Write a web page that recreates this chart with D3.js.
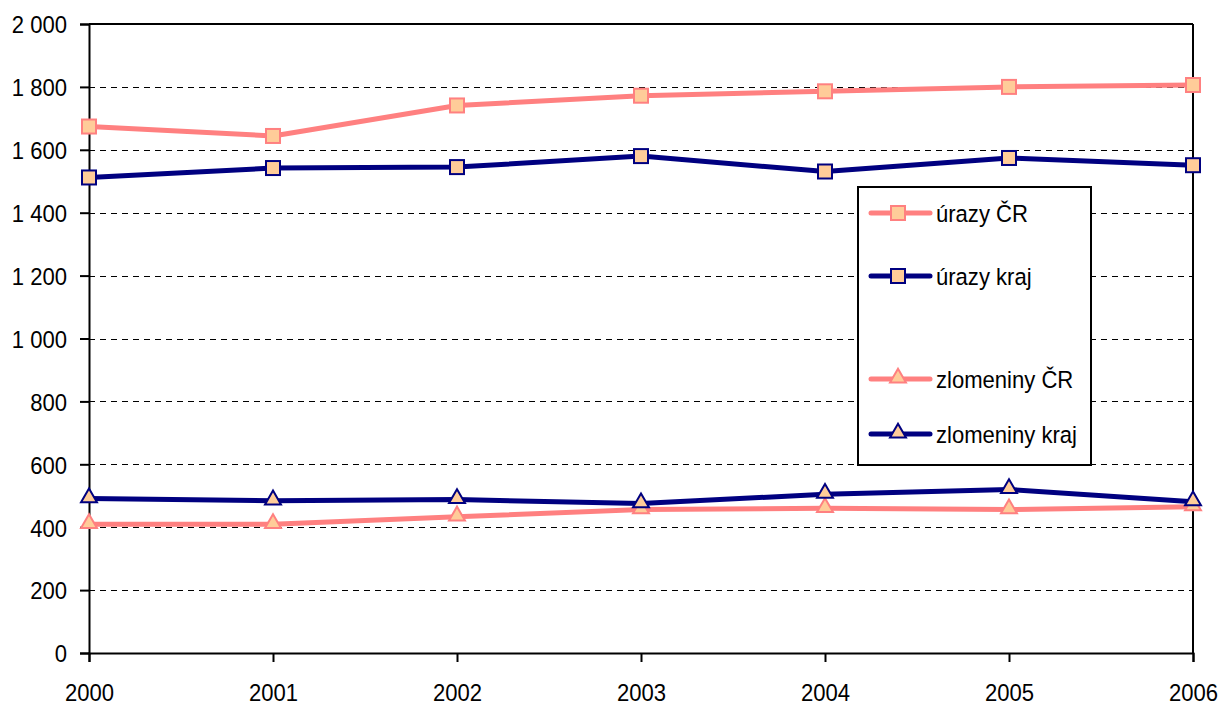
<!DOCTYPE html>
<html>
<head>
<meta charset="utf-8">
<script src="https://cdn.jsdelivr.net/npm/d3@7"></script>
<style>
  body { margin: 0; background: #fff; }
  text { font-family: "Liberation Sans", Arial, sans-serif; }
</style>
</head>
<body>
<div id="chart"></div>
<script>
// data
var years = [2000, 2001, 2002, 2003, 2004, 2005, 2006];
var urazyCR = [1674, 1644, 1741, 1772, 1786, 1800, 1806];
var urazyKraj = [1512, 1542, 1545, 1580, 1531, 1574, 1551];
var zlomeninyCR = [409, 409, 433, 456, 460, 456, 465];
var zlomeninyKraj = [491, 484, 488, 475, 505, 520, 481];
var yTicks = [0, 200, 400, 600, 800, 1000, 1200, 1400, 1600, 1800, 2000];
var seriesNames = ["úrazy ČR", "úrazy kraj", "zlomeniny ČR", "zlomeniny kraj"];

var width = 1223, height = 707;
var pink = "#ff8080", navy = "#000080", peach = "#ffcc99";
var fontSize = "24.5px";

var series = [
  {name: seriesNames[0], values: urazyCR, color: pink, shape: "square"},
  {name: seriesNames[1], values: urazyKraj, color: navy, shape: "square"},
  {name: seriesNames[2], values: zlomeninyCR, color: pink, shape: "triangle"},
  {name: seriesNames[3], values: zlomeninyKraj, color: navy, shape: "triangle"}
];

var svg = d3.select("#chart").append("svg")
    .attr("width", width)
    .attr("height", height);

var x = d3.scaleLinear().domain([2000, 2006]).range([89, 1193]);
var y = d3.scaleLinear().domain([0, 2000]).range([653, 24]);

var fmt = d3.formatLocale({decimal: ",", thousands: "\u00a0", grouping: [3], currency: ["", ""]}).format(",d");

// gridlines
svg.append("g")
  .selectAll("line")
  .data(yTicks.filter(function(d) { return d > 0 && d < 2000; }))
  .enter().append("line")
  .attr("x1", x(2000)).attr("x2", x(2006))
  .attr("y1", function(d) { return Math.round(y(d)) + 0.5; })
  .attr("y2", function(d) { return Math.round(y(d)) + 0.5; })
  .attr("stroke", "#000")
  .attr("stroke-width", 1)
  .attr("shape-rendering", "crispEdges")
  .attr("stroke-dasharray", "6,5");

// frame top + right
svg.append("line").attr("x1", x(2000)).attr("x2", x(2006)).attr("y1", y(2000)).attr("y2", y(2000))
  .attr("stroke", "#000").attr("stroke-width", 2);
svg.append("line").attr("x1", x(2006)).attr("x2", x(2006)).attr("y1", y(2000)).attr("y2", y(0))
  .attr("stroke", "#000").attr("stroke-width", 2);

// y axis
var yAxis = svg.append("g")
  .attr("transform", "translate(" + x(2000) + ",0)")
  .call(d3.axisLeft(y).tickValues(yTicks).tickSize(9).tickPadding(13).tickFormat(fmt));
// x axis
var xAxis = svg.append("g")
  .attr("transform", "translate(0," + y(0) + ")")
  .call(d3.axisBottom(x).tickValues(years).tickSize(9).tickPadding(22).tickFormat(d3.format("d")));

[yAxis, xAxis].forEach(function(ax) {
  ax.select(".domain").attr("stroke", "#000").attr("stroke-width", 2);
  ax.selectAll(".tick line").attr("stroke", "#000").attr("stroke-width", 2);
  ax.selectAll(".tick text")
    .attr("fill", "#000")
    .style("font-size", fontSize)
    .style("font-family", "'Liberation Sans', Arial, sans-serif");
});
yAxis.selectAll(".tick text").attr("dy", "0.36em");

var line = d3.line()
  .x(function(d, i) { return x(years[i]); })
  .y(function(d) { return y(d); });

var tri = d3.symbol().type(d3.symbolTriangle).size(110);

function drawMarker(g, shape, color, cx, cy) {
  if (shape === "square") {
    g.append("rect")
      .attr("x", cx - 7).attr("y", cy - 7)
      .attr("width", 14).attr("height", 14)
      .attr("fill", peach).attr("stroke", color).attr("stroke-width", 2);
  } else {
    g.append("path")
      .attr("d", tri())
      .attr("transform", "translate(" + cx + "," + (cy - 1) + ")")
      .attr("fill", peach).attr("stroke", color).attr("stroke-width", 2);
  }
}

series.forEach(function(s) {
  var g = svg.append("g");
  g.append("path")
    .datum(s.values)
    .attr("d", line)
    .attr("fill", "none")
    .attr("stroke", s.color)
    .attr("stroke-width", 5)
    .attr("stroke-linejoin", "round");
  s.values.forEach(function(v, i) {
    drawMarker(g, s.shape, s.color, x(years[i]), y(v));
  });
});

// legend
var legend = svg.append("g");
legend.append("rect")
  .attr("x", 858).attr("y", 187)
  .attr("width", 233).attr("height", 278)
  .attr("fill", "#fff").attr("stroke", "#000").attr("stroke-width", 2);

var legendY = [213, 276, 379, 434];
series.forEach(function(s, i) {
  var ly = legendY[i];
  legend.append("line")
    .attr("x1", 871).attr("x2", 930).attr("y1", ly).attr("y2", ly)
    .attr("stroke", s.color).attr("stroke-width", 5).attr("stroke-linecap", "round");
  drawMarker(legend, s.shape, s.color, 898, ly);
  legend.append("text")
    .attr("x", 936).attr("y", ly + 9)
    .style("font-size", fontSize)
    .attr("fill", "#000")
    .text(s.name);
});

// the original face is narrow: squeeze every label horizontally
svg.selectAll("text").each(function() {
  var len = this.getComputedTextLength();
  d3.select(this)
    .attr("textLength", len * 0.9)
    .attr("lengthAdjust", "spacingAndGlyphs");
});
</script>
</body>
</html>
